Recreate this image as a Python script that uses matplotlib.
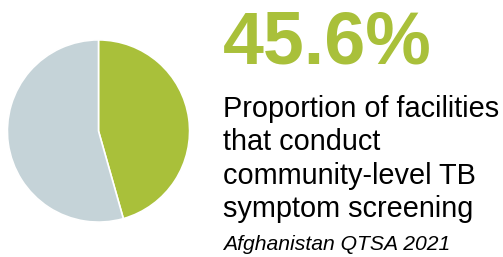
import matplotlib
matplotlib.use('Agg')
import matplotlib.pyplot as plt

labels = ['Conduct screening', 'Do not conduct']
values = [45.6, 54.4]
colors = ['#A9C03A', '#C5D3D8']

headline = '45.6%'
body_lines = ['Proportion of facilities', 'that conduct', 'community-level TB', 'symptom screening']
source = 'Afghanistan QTSA 2021'

W, H = 503, 257
fig = plt.figure(figsize=(W / 100, H / 100), dpi=100)

# pie: centre ~ (98.5, 131) px from top-left, radius ~92 px
cx, cy, r = 98.5, 131, 92
ax = fig.add_axes([(cx - r) / W, (H - cy - r) / H, 2 * r / W, 2 * r / H])
ax.pie(values, colors=colors, startangle=90, counterclock=False,
       wedgeprops=dict(edgecolor='white', linewidth=1.2))
ax.set_xlim(-1.01, 1.01)
ax.set_ylim(-1.01, 1.01)
ax.set_aspect('equal')
ax.axis('off')

font = 'Liberation Sans'
x0 = 223 / W
fig.text(x0, (H - 63) / H, headline, color=colors[0], fontsize=53,
         fontweight='bold', family=font, va='baseline', ha='left')

for i, line in enumerate(body_lines):
    y = 117 + i * 33.3
    fig.text(x0, (H - y) / H, line, color='black', fontsize=20.8,
             family=font, va='baseline', ha='left')

fig.text(x0, (H - 250) / H, source, color='black', fontsize=15.2,
         style='italic', family=font, va='baseline', ha='left')

fig.savefig('out.png', dpi=100, facecolor='white')
